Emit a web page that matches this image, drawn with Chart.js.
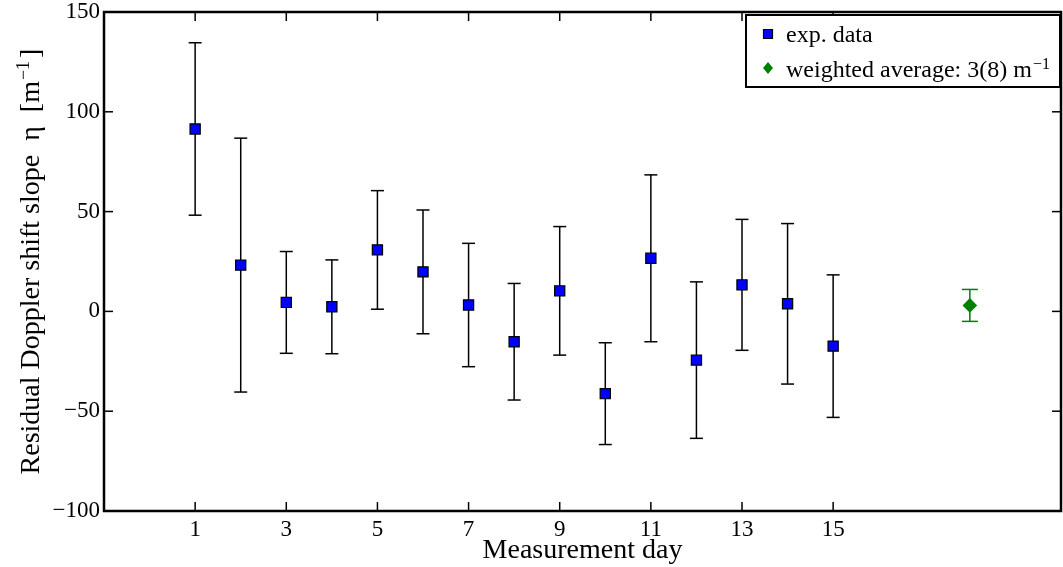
<!DOCTYPE html>
<html>
<head>
<meta charset="utf-8">
<script src="https://cdn.jsdelivr.net/npm/chart.js@4.4.1/dist/chart.umd.min.js"></script>
<style>
  html, body { margin: 0; background: #fff; }
</style>
</head>
<body>
<canvas id="etaChart" width="1063" height="567"></canvas>
<script>
// residual Doppler shift slope per measurement day, with 1-sigma errors
const days = [1, 2, 3, 4, 5, 6, 7, 8, 9, 10, 11, 12, 13, 14, 15];
const eta = [91.4, 23.2, 4.5, 2.3, 30.8, 19.8, 3.2, -15.2, 10.3, -41.2, 26.6, -24.4, 13.3, 3.8, -17.4];
const etaErr = [43.2, 63.6, 25.5, 23.5, 29.7, 31.0, 30.9, 29.2, 32.2, 25.5, 41.8, 39.2, 32.8, 40.2, 35.7];

// weighted average, plotted off to the right
const avgDay = [18];
const avgEta = [3];
const avgErr = [8];

const xTickValues = [1, 3, 5, 7, 9, 11, 13, 15];
const yTickValues = [-100, -50, 0, 50, 100, 150];

const FONT = "Liberation Serif";

const toPoints = (xs, ys, es) => xs.map((x, i) => ({ x: x, y: ys[i], err: es[i] }));

function line(ctx, x1, y1, x2, y2) {
  ctx.beginPath();
  ctx.moveTo(x1, y1);
  ctx.lineTo(x2, y2);
  ctx.stroke();
}

// text with a trailing superscript, e.g. "m" + "−1"; returns the width used
function drawSup(ctx, x, y, base, sup, size) {
  ctx.font = size + "px '" + FONT + "'";
  ctx.fillText(base, x, y);
  const w = ctx.measureText(base).width;
  ctx.font = Math.round(size * 0.65) + "px '" + FONT + "'";
  ctx.fillText(sup, x + w + 1, y - size * 0.34);
  return w + 1 + ctx.measureText(sup).width;
}

function supWidth(ctx, base, sup, size) {
  ctx.font = size + "px '" + FONT + "'";
  const w = ctx.measureText(base).width;
  ctx.font = Math.round(size * 0.65) + "px '" + FONT + "'";
  return w + 1 + ctx.measureText(sup).width;
}

const errorBars = {
  id: "errorBars",
  beforeDatasetsDraw(chart) {
    const ctx = chart.ctx;
    const xs = chart.scales.x, ys = chart.scales.y;
    chart.data.datasets.forEach((ds) => {
      ctx.save();
      ctx.strokeStyle = ds.errColor;
      ctx.lineWidth = 1.5;
      const cap = ds.capWidth / 2;
      ds.data.forEach((p) => {
        const px = xs.getPixelForValue(p.x);
        const top = ys.getPixelForValue(p.y + p.err);
        const bot = ys.getPixelForValue(p.y - p.err);
        line(ctx, px, top, px, bot);
        line(ctx, px - cap, top, px + cap, top);
        line(ctx, px - cap, bot, px + cap, bot);
      });
      ctx.restore();
    });
  },
};

// box frame, inward tick marks, titles and legend
const frame = {
  id: "frame",
  afterDraw(chart) {
    const ctx = chart.ctx;
    const a = chart.chartArea;
    const xs = chart.scales.x, ys = chart.scales.y;
    ctx.save();
    ctx.strokeStyle = "#000";
    ctx.lineWidth = 1.5;
    xs.ticks.forEach((t) => {
      const px = xs.getPixelForValue(t.value);
      line(ctx, px, a.bottom, px, a.bottom - 9);
      line(ctx, px, a.top, px, a.top + 9);
    });
    ys.ticks.forEach((t) => {
      const py = ys.getPixelForValue(t.value);
      line(ctx, a.left, py, a.left + 9, py);
      line(ctx, a.right, py, a.right - 9, py);
    });
    ctx.lineWidth = 2.5;
    ctx.strokeRect(a.left, a.top, a.right - a.left, a.bottom - a.top);

    // axis titles
    ctx.fillStyle = "#000";
    ctx.textBaseline = "alphabetic";
    ctx.textAlign = "center";
    ctx.font = "28px '" + FONT + "'";
    ctx.fillText("Measurement day", (a.left + a.right) / 2, 558);

    ctx.save();
    ctx.translate(39, (a.top + a.bottom) / 2);
    ctx.rotate(-Math.PI / 2);
    ctx.textAlign = "left";
    const main = "Residual Doppler shift slope  η  [";
    ctx.font = "28px '" + FONT + "'";
    const wMain = ctx.measureText(main).width;
    const wB = ctx.measureText("]").width;
    const wUnit = supWidth(ctx, "m", "−1", 28);
    let x0 = -(wMain + wUnit + 3 + wB) / 2;
    ctx.font = "28px '" + FONT + "'";
    ctx.fillText(main, x0, 0);
    x0 += wMain;
    x0 += drawSup(ctx, x0, 0, "m", "−1", 28) + 3;
    ctx.font = "28px '" + FONT + "'";
    ctx.fillText("]", x0, 0);
    ctx.restore();

    // legend
    const lx = 746, ly = 15, lw = 314, lh = 72;
    ctx.fillStyle = "#fff";
    ctx.fillRect(lx, ly, lw, lh);
    ctx.lineWidth = 2;
    ctx.strokeStyle = "#000";
    ctx.strokeRect(lx, ly, lw, lh);
    const rows = [34, 68];
    chart.data.datasets.forEach((ds, i) => {
      const cy = rows[i];
      ctx.fillStyle = ds.backgroundColor;
      ctx.strokeStyle = ds.borderColor;
      ctx.lineWidth = ds.borderWidth;
      ctx.beginPath();
      if (ds.pointStyle === "rect") {
        ctx.rect(768 - 4.5, cy - 4.5, 9, 9);
      } else {
        ctx.moveTo(768, cy - 6);
        ctx.lineTo(773, cy);
        ctx.lineTo(768, cy + 6);
        ctx.lineTo(763, cy);
        ctx.closePath();
      }
      ctx.fill();
      if (ds.borderWidth) ctx.stroke();
      ctx.fillStyle = "#000";
      ctx.textAlign = "left";
      ctx.font = "24px '" + FONT + "'";
      if (ds.unitSup) {
        ctx.fillText(ds.label + " ", 786, cy + 9);
        const w = ctx.measureText(ds.label + " ").width;
        drawSup(ctx, 786 + w, cy + 9, "m", "−1", 24);
      } else {
        ctx.fillText(ds.label, 786, cy + 8);
      }
    });
    ctx.restore();
  },
};

new Chart(document.getElementById("etaChart"), {
  type: "scatter",
  data: {
    datasets: [
      {
        label: "exp. data",
        data: toPoints(days, eta, etaErr),
        pointStyle: "rect",
        pointRadius: 7.2,
        pointHoverRadius: 7.2,
        backgroundColor: "#0000ff",
        borderColor: "#000",
        borderWidth: 1.2,
        errColor: "#000",
        capWidth: 13,
      },
      {
        label: "weighted average: " + avgEta[0] + "(" + avgErr[0] + ")",
        unitSup: true,
        data: toPoints(avgDay, avgEta, avgErr),
        pointStyle: "rectRot",
        pointRadius: 7.3,
        pointHoverRadius: 7.3,
        backgroundColor: "#008000",
        borderColor: "#008000",
        borderWidth: 0,
        errColor: "#008000",
        capWidth: 16,
      },
    ],
  },
  options: {
    responsive: false,
    animation: false,
    events: [],
    layout: {
      autoPadding: false,
      padding: { top: 12, right: 2, left: 0, bottom: 0 },
    },
    plugins: {
      legend: { display: false },
      tooltip: { enabled: false },
    },
    scales: {
      x: {
        type: "linear",
        min: -1,
        max: 20,
        afterBuildTicks: (s) => { s.ticks = xTickValues.map((v) => ({ value: v })); },
        afterFit: (s) => {
          s.height = 56;
          s.paddingLeft = 0;
          s.paddingRight = 0;
        },
        grid: { display: false, drawTicks: false },
        border: { display: false },
        ticks: {
          padding: 5,
          color: "#000",
          font: { family: FONT, size: 23 },
        },
      },
      y: {
        min: -100,
        max: 150,
        afterBuildTicks: (s) => { s.ticks = yTickValues.map((v) => ({ value: v })); },
        afterFit: (s) => {
          s.width = 104;
          s.paddingTop = 0;
          s.paddingBottom = 0;
        },
        grid: { display: false, drawTicks: false },
        border: { display: false },
        ticks: {
          padding: 4,
          color: "#000",
          font: { family: FONT, size: 23 },
          callback: (v) => (v < 0 ? "−" + Math.abs(v) : "" + v),
        },
      },
    },
  },
  plugins: [errorBars, frame],
});
</script>
</body>
</html>
